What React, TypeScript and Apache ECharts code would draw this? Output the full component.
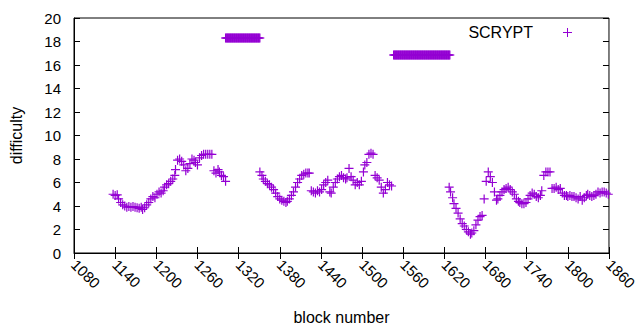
import React, { useEffect, useRef } from "react";
import * as echarts from "echarts";

const xTicks = [1080, 1140, 1200, 1260, 1320, 1380, 1440, 1500, 1560, 1620, 1680, 1740, 1800, 1860];
const yTicks = [0, 2, 4, 6, 8, 10, 12, 14, 16, 18, 20];
const seriesName = "SCRYPT";

// early blocks
const blocksA = [1137, 1140, 1143, 1145, 1148, 1151, 1154, 1157, 1160, 1163, 1166, 1169, 1172, 1175, 1178, 1180, 1183, 1186, 1189, 1192, 1195, 1198, 1201, 1204, 1207, 1210, 1212, 1215, 1218, 1221, 1224, 1227, 1228, 1231, 1234, 1237, 1240, 1243, 1246, 1249, 1252, 1255, 1257, 1260, 1263, 1266, 1269, 1272, 1275, 1278, 1281, 1284, 1287, 1290, 1292, 1295, 1298, 1301];
const diffA = [5.0, 4.9, 4.95, 4.6, 4.3, 4.1, 4.0, 3.9, 3.95, 3.9, 3.95, 3.9, 3.85, 3.8, 3.9, 3.7, 3.85, 4.1, 4.3, 4.6, 4.8, 4.7, 5.0, 5.2, 5.1, 5.3, 5.6, 5.8, 5.9, 6.1, 6.3, 6.6, 7.1, 7.9, 8.0, 7.8, 7.5, 7.0, 7.2, 7.6, 8.0, 7.9, 7.7, 7.5, 8.1, 8.3, 8.4, 8.4, 8.4, 8.4, 8.4, 7.0, 6.8, 7.1, 6.9, 6.6, 6.5, 6.1];

// first high plateau
const blocksB = [1301, 1302, 1303, 1304, 1305, 1306, 1307, 1308, 1309, 1310, 1311, 1312, 1313, 1314, 1315, 1316, 1317, 1318, 1319, 1320, 1321, 1322, 1323, 1324, 1325, 1326, 1327, 1328, 1329, 1330, 1331, 1332, 1333, 1334, 1335, 1336, 1337, 1338, 1339, 1340, 1341, 1342, 1343, 1344, 1345, 1346, 1347, 1348, 1349, 1350, 1351];
const diffB = [18.3, 18.3, 18.3, 18.3, 18.3, 18.3, 18.3, 18.3, 18.3, 18.3, 18.3, 18.3, 18.3, 18.3, 18.3, 18.3, 18.3, 18.3, 18.3, 18.3, 18.3, 18.3, 18.3, 18.3, 18.3, 18.3, 18.3, 18.3, 18.3, 18.3, 18.3, 18.3, 18.3, 18.3, 18.3, 18.3, 18.3, 18.3, 18.3, 18.3, 18.3, 18.3, 18.3, 18.3, 18.3, 18.3, 18.3, 18.3, 18.3, 18.3, 18.3];

// middle blocks
const blocksC = [1351, 1354, 1356, 1359, 1362, 1365, 1368, 1371, 1374, 1377, 1380, 1383, 1386, 1389, 1391, 1394, 1397, 1400, 1403, 1406, 1409, 1412, 1415, 1418, 1421, 1423, 1426, 1429, 1432, 1435, 1438, 1441, 1444, 1447, 1450, 1453, 1455, 1458, 1461, 1464, 1467, 1470, 1473, 1476, 1478, 1481, 1484, 1487, 1490, 1493, 1496, 1499, 1502, 1504, 1507, 1510, 1513, 1516, 1519, 1522, 1525, 1528, 1531, 1534, 1537, 1540, 1543];
const diffC = [6.9, 6.6, 6.3, 6.1, 5.9, 5.8, 5.6, 5.4, 5.1, 4.8, 4.6, 4.5, 4.4, 4.3, 4.4, 4.6, 4.9, 5.2, 5.6, 6.0, 6.3, 6.6, 6.7, 6.8, 6.8, 6.8, 5.3, 5.2, 5.1, 5.3, 5.2, 5.4, 5.8, 6.0, 6.2, 5.2, 5.1, 5.6, 6.0, 6.3, 6.5, 6.6, 6.4, 6.3, 6.4, 7.2, 6.5, 6.2, 5.8, 6.0, 5.8, 6.1, 6.9, 7.5, 7.7, 8.4, 8.5, 8.4, 6.6, 6.4, 6.2, 5.6, 5.1, 5.4, 6.0, 5.8, 5.7];

// second high plateau
const blocksD = [1546, 1547, 1548, 1549, 1550, 1551, 1552, 1553, 1554, 1555, 1556, 1557, 1558, 1559, 1560, 1561, 1562, 1563, 1564, 1565, 1566, 1567, 1568, 1569, 1570, 1571, 1572, 1573, 1574, 1575, 1576, 1577, 1578, 1579, 1580, 1581, 1582, 1583, 1584, 1585, 1586, 1587, 1588, 1589, 1590, 1591, 1592, 1593, 1594, 1595, 1596, 1597, 1598, 1599, 1600, 1601, 1602, 1603, 1604, 1605, 1606, 1607, 1608, 1609, 1610, 1611, 1612, 1613, 1614, 1615, 1616, 1617, 1618, 1619, 1620, 1621, 1622, 1623, 1624, 1625, 1626, 1627, 1628];
const diffD = [16.85, 16.85, 16.85, 16.85, 16.85, 16.85, 16.85, 16.85, 16.85, 16.85, 16.85, 16.85, 16.85, 16.85, 16.85, 16.85, 16.85, 16.85, 16.85, 16.85, 16.85, 16.85, 16.85, 16.85, 16.85, 16.85, 16.85, 16.85, 16.85, 16.85, 16.85, 16.85, 16.85, 16.85, 16.85, 16.85, 16.85, 16.85, 16.85, 16.85, 16.85, 16.85, 16.85, 16.85, 16.85, 16.85, 16.85, 16.85, 16.85, 16.85, 16.85, 16.85, 16.85, 16.85, 16.85, 16.85, 16.85, 16.85, 16.85, 16.85, 16.85, 16.85, 16.85, 16.85, 16.85, 16.85, 16.85, 16.85, 16.85, 16.85, 16.85, 16.85, 16.85, 16.85, 16.85, 16.85, 16.85, 16.85, 16.85, 16.85, 16.85, 16.85, 16.85];

// late blocks
const blocksE = [1627, 1629, 1632, 1634, 1637, 1640, 1643, 1646, 1649, 1652, 1655, 1658, 1660, 1663, 1666, 1669, 1672, 1675, 1678, 1681, 1684, 1687, 1690, 1693, 1696, 1698, 1701, 1704, 1707, 1710, 1713, 1716, 1719, 1722, 1725, 1728, 1730, 1733, 1736, 1739, 1742, 1745, 1748, 1751, 1754, 1757, 1760, 1762, 1765, 1768, 1771, 1774, 1777, 1780, 1783, 1786, 1789, 1792, 1795, 1798, 1800, 1803, 1806, 1809, 1812, 1815, 1818, 1821, 1824, 1827, 1829, 1832, 1835, 1838, 1841, 1844, 1847, 1850, 1853, 1856, 1859];
const diffE = [5.6, 5.2, 4.7, 4.2, 3.8, 3.4, 2.9, 2.5, 2.3, 2.0, 1.8, 1.6, 1.7, 1.9, 2.4, 2.8, 3.1, 3.2, 4.6, 6.1, 6.9, 6.5, 6.0, 5.2, 4.5, 4.6, 4.9, 5.2, 5.4, 5.5, 5.6, 5.4, 5.2, 5.0, 4.6, 4.4, 4.3, 4.2, 4.2, 4.3, 4.6, 4.9, 5.1, 5.0, 4.8, 4.7, 4.9, 5.3, 6.6, 6.9, 6.9, 6.9, 5.5, 5.5, 5.6, 5.4, 5.5, 5.1, 4.9, 4.9, 4.8, 4.9, 4.8, 4.8, 4.7, 4.6, 4.8, 4.5, 4.7, 4.9, 5.0, 4.9, 4.8, 4.9, 5.0, 5.2, 5.1, 5.2, 5.2, 5.1, 5.0];

const blocks = [...blocksA, ...blocksB, ...blocksC, ...blocksD, ...blocksE];
const difficulty = [...diffA, ...diffB, ...diffC, ...diffD, ...diffE];

const PURPLE = "#9400d3";
const FONT = "Liberation Sans";
const PLUS = "path://M0,3.9L9,3.9L9,5.1L0,5.1Z M3.9,0L5.1,0L5.1,9L3.9,9Z";

export default function App() {
  const ref = useRef<HTMLDivElement>(null);
  useEffect(() => {
    document.body.style.margin = "0";
    if (!ref.current) return;
    const chart = echarts.init(ref.current, undefined, { renderer: "svg" });
    const data = blocks.map((b, i) => [b, difficulty[i]]);
    const tickCommon = { show: true, inside: true, length: 6, lineStyle: { color: "#000", width: 1 } };
    chart.setOption({
      animation: false,
      backgroundColor: "#fff",
      grid: { left: 74, right: 30, top: 18, bottom: 77, show: true, borderColor: "#000", borderWidth: 1, backgroundColor: "transparent" },
      xAxis: [
        {
          type: "value",
          min: xTicks[0],
          max: xTicks[xTicks.length - 1],
          interval: 60,
          name: "block number",
          nameLocation: "middle",
          nameGap: 56,
          nameTextStyle: { fontFamily: FONT, fontSize: 16, color: "#000" },
          axisLine: { show: true, lineStyle: { color: "#000" } },
          axisTick: tickCommon,
          splitLine: { show: false },
          axisLabel: { rotate: -45, fontFamily: FONT, fontSize: 15, color: "#000", margin: 9, formatter: (v: number) => String(v) },
        },
        {
          type: "value",
          position: "top",
          min: xTicks[0],
          max: xTicks[xTicks.length - 1],
          interval: 60,
          axisLine: { show: false },
          axisTick: tickCommon,
          axisLabel: { show: false },
          splitLine: { show: false },
        },
      ],
      yAxis: [
        {
          type: "value",
          min: yTicks[0],
          max: yTicks[yTicks.length - 1],
          interval: 2,
          name: "difficulty",
          nameLocation: "middle",
          nameGap: 50,
          nameTextStyle: { fontFamily: FONT, fontSize: 16, color: "#000" },
          axisLine: { show: true, lineStyle: { color: "#000" } },
          axisTick: tickCommon,
          splitLine: { show: false },
          axisLabel: { fontFamily: FONT, fontSize: 15, color: "#000", margin: 13 },
        },
        {
          type: "value",
          position: "right",
          min: yTicks[0],
          max: yTicks[yTicks.length - 1],
          interval: 2,
          axisLine: { show: false },
          axisTick: tickCommon,
          axisLabel: { show: false },
          splitLine: { show: false },
        },
      ],
      graphic: [
        {
          type: "text",
          x: 533,
          y: 32,
          style: { text: seriesName, fontFamily: FONT, fontSize: 16, fill: "#000", align: "right", verticalAlign: "middle" },
        },
        { type: "line", shape: { x1: 563, y1: 32.5, x2: 572, y2: 32.5 }, style: { stroke: PURPLE, lineWidth: 1 } },
        { type: "line", shape: { x1: 567.5, y1: 28, x2: 567.5, y2: 37 }, style: { stroke: PURPLE, lineWidth: 1 } },
      ],
      series: [
        {
          name: seriesName,
          type: "scatter",
          xAxisIndex: 0,
          yAxisIndex: 0,
          data,
          symbol: PLUS,
          symbolSize: 9,
          itemStyle: { color: PURPLE, opacity: 1 },
        },
      ],
    });
    return () => chart.dispose();
  }, []);
  return <div ref={ref} style={{ width: 640, height: 330 }} />;
}
